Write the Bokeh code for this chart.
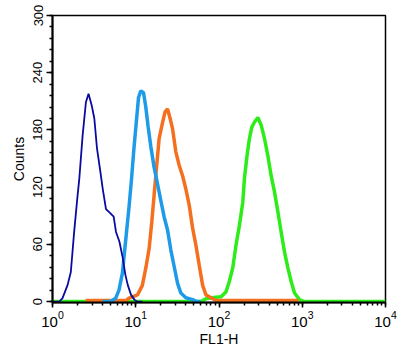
from bokeh.plotting import figure
from bokeh.models import Range1d, SingleIntervalTicker, LogTicker
from bokeh.embed import file_html
from bokeh.resources import INLINE

# FL1-H channel values and counts
blue_dark_x = [1.0, 1.21, 1.32, 1.52, 1.66, 1.82, 2.00, 2.10, 2.30, 2.52, 2.71, 2.97, 3.18, 3.42, 3.76,
               4.00, 4.39, 4.90, 5.43, 5.79, 6.36, 6.97, 7.51, 8.01, 8.78, 9.64, 10.3, 12.0]
blue_dark_y = [0, 0, 3.6, 17.5, 31, 73, 111, 129, 174, 209, 218, 205, 192, 161, 136,
               119, 97, 93, 89, 73, 63, 46, 28, 17.5, 7, 2, 0, 0]

blue_light_x = [4.0, 5.0, 5.74, 6.29, 6.92, 7.23, 7.79, 8.30, 8.87, 9.54, 10.2, 10.8, 11.5, 12.4, 13.2,
                14.1, 15.2, 16.6, 18.2, 20.0, 21.9, 24.1, 26.4, 28.9, 31.8, 34.8, 40.0, 48.2, 54.3, 60.0]
blue_light_y = [0, 0, 3.5, 12, 30, 47, 75, 99, 127, 162, 190, 214, 221, 219, 204,
                183, 162, 141, 124, 106, 89, 75, 54, 37, 19, 9, 4, 2, 0, 0]

orange_x = [2.5, 7.58, 8.30, 10.5, 12.0, 13.2, 14.5, 15.6, 16.6, 17.7, 19.1, 21.0, 22.5, 24.1, 25.7,
            27.7, 30.3, 33.2, 36.5, 40.0, 43.9, 48.2, 52.8, 57.9, 63.6, 69.7, 80.1, 92.0, 900.0]
orange_y = [1, 1, 3.5, 7, 17, 35, 56, 84, 111, 139, 171, 188, 199, 202, 193,
            181, 157, 143, 132, 118, 101, 77, 59, 38, 17, 7, 4, 1, 1]

green_x = [1.0, 60.7, 69.7, 80.1, 106, 121, 133, 146, 160, 176, 193, 202, 217, 232, 248, 266,
           293, 321, 352, 386, 423, 464, 510, 558, 612, 673, 736, 807, 927, 1057, 10000]
green_y = [0, 0, 3, 4, 5, 10, 21, 35, 59, 80, 104, 129, 153, 171, 183, 188,
           193, 185, 171, 153, 132, 115, 94, 73, 52, 35, 21, 9, 2, 0, 0]

y_ticks_interval = 60

p = figure(x_axis_type="log", output_backend="svg", toolbar_location=None,
           frame_width=333, frame_height=287,
           min_border_left=52, min_border_right=20, min_border_top=15, min_border_bottom=46,
           x_range=Range1d(1, 10000), y_range=Range1d(-1, 300),
           x_axis_label="FL1-H", y_axis_label="Counts")

p.line(green_x, green_y, line_color="#2EEB1A", line_width=3.5)
p.line(orange_x, orange_y, line_color="#F4701E", line_width=3.5)
p.line(blue_light_x, blue_light_y, line_color="#1E9BE8", line_width=3.5)
p.line(blue_dark_x, blue_dark_y, line_color="#0A0AA0", line_width=1.8)

p.grid.visible = False
p.outline_line_color = "black"
p.outline_line_width = 1.5
p.background_fill_color = "white"
p.border_fill_color = "white"

p.yaxis.ticker = SingleIntervalTicker(interval=y_ticks_interval, num_minor_ticks=5)
p.xaxis.ticker = LogTicker(num_minor_ticks=10)

for ax in (p.xaxis, p.yaxis):
    ax.axis_line_width = 2
    ax.major_tick_line_width = 1.5
    ax.minor_tick_line_width = 1.5
    ax.major_tick_in = 0
    ax.minor_tick_in = 0
    ax.major_label_text_font = "Liberation Sans"
    ax.major_label_text_color = "black"
    ax.axis_label_text_font = "Liberation Sans"
    ax.axis_label_text_font_size = "14px"
    ax.axis_label_text_font_style = "normal"
    ax.axis_label_text_color = "black"

p.xaxis.major_label_text_font_size = "15px"
p.yaxis.major_label_text_font_size = "13px"
p.yaxis.major_tick_out = 6
p.yaxis.minor_tick_out = 3
p.xaxis.major_tick_out = 5
p.xaxis.minor_tick_out = 3
p.yaxis.major_label_orientation = "vertical"
p.yaxis.axis_label_standoff = 4
p.xaxis.axis_label_standoff = 1
p.xaxis.major_label_standoff = 3
p.yaxis.major_label_standoff = 4

open("out.html", "w").write(file_html(p, INLINE))
